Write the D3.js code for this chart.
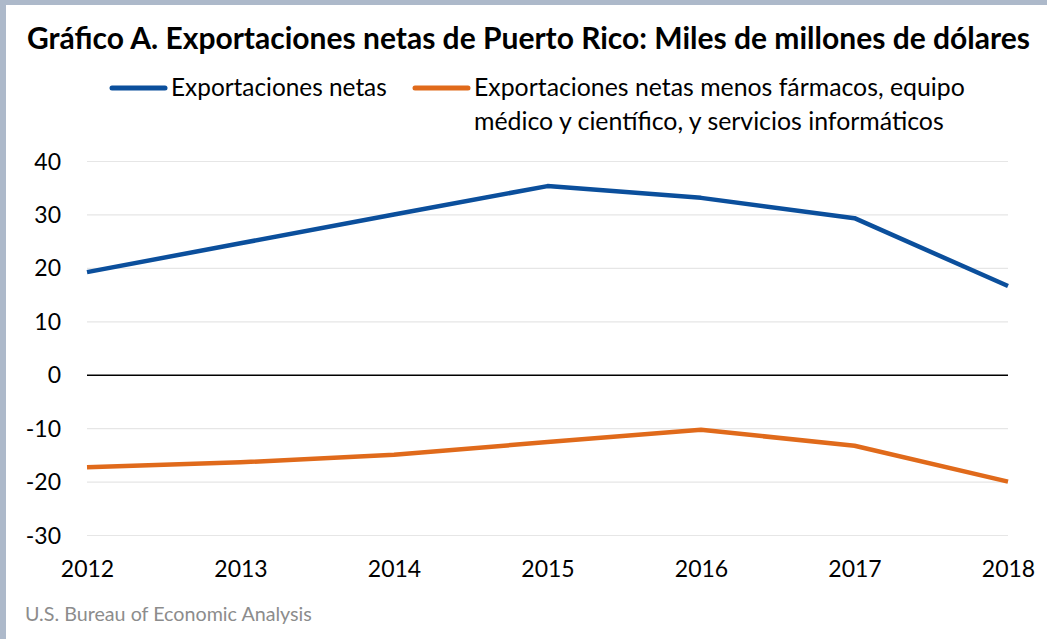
<!DOCTYPE html>
<html><head><meta charset="utf-8">
<script src="https://cdn.jsdelivr.net/npm/d3@7"></script>
<style>body{margin:0;background:#fff}svg{display:block}text{font-family:Lato,"Open Sans",sans-serif}</style>
</head><body><svg id="c" width="1047" height="639"></svg>
<script>
const years = [2012, 2013, 2014, 2015, 2016, 2017, 2018];
const netExports = [19.2, 24.6, 30.0, 35.3, 33.1, 29.3, 16.6];
const netExportsExcl = [-17.3, -16.4, -15.0, -12.6, -10.3, -13.3, -20.0];
const yTicks = [-30, -20, -10, 0, 10, 20, 30, 40];
const seriesNames = ["Exportaciones netas", "Exportaciones netas menos fármacos, equipo", "médico y científico, y servicios informáticos"];
const colors = ["#0b4f9c", "#e06a1b"];

const svg = d3.select("#c");
svg.append("rect").attr("width",1047).attr("height",639).attr("fill","#adb9ca");
svg.append("rect").attr("x",6).attr("y",5).attr("width",1041).attr("height",634).attr("fill","#fff");

const x = d3.scalePoint().domain(years).range([87, 1008]);
const y = d3.scaleLinear().domain([-30, 40]).range([535, 161]);

function fit(sel, w){ const n=sel.node(); const l=n.getComputedTextLength(); const fs=+sel.attr("font-size"); sel.attr("font-size", fs*w/l); }

const title = svg.append("text").attr("x",27).attr("y",49)
  .attr("font-weight","bold").attr("font-size",30).attr("fill","#000")
  .text("Gráfico A. Exportaciones netas de Puerto Rico: Miles de millones de dólares");
fit(title, 1003);

// legend
const lg = svg.append("g");
lg.append("line").attr("x1",112).attr("x2",165).attr("y1",88).attr("y2",88).attr("stroke",colors[0]).attr("stroke-width",5).attr("stroke-linecap","round");
fit(lg.append("text").attr("x",171).attr("y",96).attr("font-size",24).text(seriesNames[0]), 216);
lg.append("line").attr("x1",415).attr("x2",468).attr("y1",88).attr("y2",88).attr("stroke",colors[1]).attr("stroke-width",5).attr("stroke-linecap","round");
fit(lg.append("text").attr("x",474).attr("y",96).attr("font-size",24).text(seriesNames[1]), 491);
fit(lg.append("text").attr("x",474).attr("y",130).attr("font-size",24).text(seriesNames[2]), 470);

// grid
const ya = svg.append("g").attr("transform","translate(87,0)")
  .call(d3.axisLeft(y).tickValues(yTicks).tickSize(-921).tickPadding(26).tickFormat(d=>String(d)));
ya.select(".domain").remove();
ya.selectAll(".tick line").attr("stroke",d=>d===0?"#000":"#e6e6e6").attr("stroke-width",d=>d===0?1.5:1.2);
ya.selectAll(".tick text").attr("font-size",23).attr("fill","#000").attr("text-anchor","end").attr("dy","0.35em");

const xa = svg.append("g").attr("transform","translate(0,535)")
  .call(d3.axisBottom(x).tickSize(0).tickPadding(26));
xa.select(".domain").remove();
xa.selectAll(".tick text").attr("font-size",23).attr("fill","#000");

const line = d3.line().x((d,i)=>x(years[i])).y(d=>y(d));
[netExports, netExportsExcl].forEach((s,k)=>{
  svg.append("path").datum(s).attr("d",line).attr("fill","none")
    .attr("stroke",colors[k]).attr("stroke-width",4.5).attr("stroke-linejoin","round");
});

fit(svg.append("text").attr("x",25).attr("y",621).attr("font-size",19).attr("fill","#8c8c8c")
  .text("U.S. Bureau of Economic Analysis"), 287);
</script></body></html>
